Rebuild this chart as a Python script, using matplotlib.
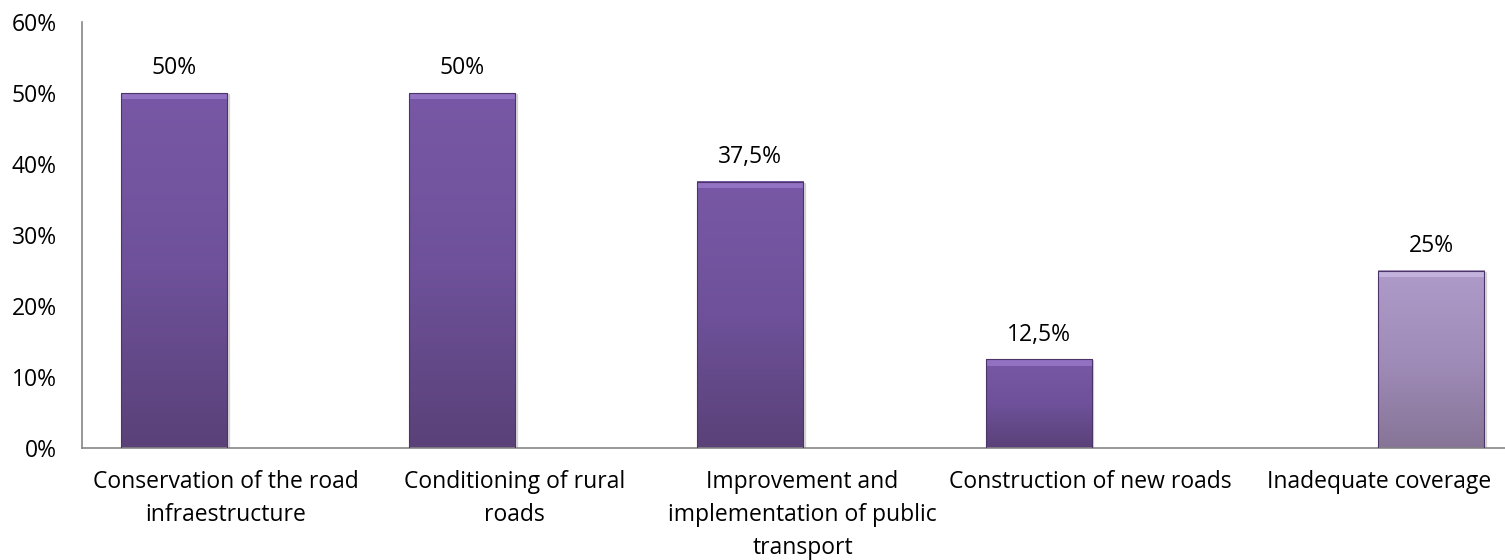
import numpy as np
import matplotlib.pyplot as plt
from matplotlib.colors import LinearSegmentedColormap

# Dados do gráfico
categorias = ['Conservation of the road\ninfraestructure',
              'Conditioning of rural\nroads',
              'Improvement and\nimplementation of public\ntransport',
              'Construction of new roads',
              'Inadequate coverage']
serie_1 = [50, 50, 37.5, 12.5, np.nan]
serie_2 = [np.nan, np.nan, np.nan, np.nan, 25]
rotulos_1 = ['50%', '50%', '37,5%', '12,5%', '']
rotulos_2 = ['', '', '', '', '25%']
yticks = [0, 10, 20, 30, 40, 50, 60]

plt.rcParams['font.family'] = ['Open Sans', 'DejaVu Sans']
fs = 16.5

fig = plt.figure(figsize=(15.05, 5.6), dpi=100)
ax = fig.add_axes([82 / 1505, 112 / 560, 1441 / 1505, 426 / 560])

x = np.arange(len(categorias))
largura = 0.368
desloc = 0.181

b1 = ax.bar(x - desloc, serie_1, largura, color='none')
b2 = ax.bar(x + desloc, serie_2, largura, color='none')

cmap1 = LinearSegmentedColormap.from_list('c1', ['#5a4178', '#6e519a', '#7858a6'])
cmap2 = LinearSegmentedColormap.from_list('c2', ['#877597', '#a08cb9', '#ae9bc9'])

# Gradiente vertical em cada barra
grad = np.linspace(0, 1, 256).reshape(-1, 1)
for barras, cmap, topo in [(b1, cmap1, '#a585d6'), (b2, cmap2, '#d2c4ea')]:
    for p in barras:
        h = p.get_height()
        if np.isnan(h):
            continue
        x0, w = p.get_x(), p.get_width()
        # sombra
        ax.add_patch(plt.Rectangle((x0 + 0.006, -0.35), w, h + 0.2,
                                   color='#000000', alpha=0.12, zorder=1))
        ax.imshow(grad, extent=(x0, x0 + w, 0, h), origin='lower', cmap=cmap,
                  aspect='auto', zorder=2)
        ax.add_patch(plt.Rectangle((x0, h - 0.9), w, 0.9, color=topo,
                                   alpha=0.6, zorder=3, lw=0))
        ax.add_patch(plt.Rectangle((x0, 0), w, h, fill=False,
                                   edgecolor='#4a3566', lw=0.8, zorder=3))

for barras, rot in [(b1, rotulos_1), (b2, rotulos_2)]:
    for p, r in zip(barras, rot):
        if r:
            ax.annotate(r, (p.get_x() + p.get_width() / 2, p.get_height()),
                        xytext=(0, 9), textcoords='offset points',
                        ha='center', va='bottom', fontsize=fs)

ax.set_xlim(-0.5, 4.5)
ax.set_ylim(0, 60)
ax.set_yticks(yticks)
ax.set_yticklabels([f'{v}%' for v in yticks], fontsize=fs)
ax.set_xticks(x)
ax.set_xticklabels(categorias, fontsize=fs, linespacing=1.5)
ax.tick_params(length=0)
ax.tick_params(axis='y', pad=18)
ax.tick_params(axis='x', pad=16)

for s in ['top', 'right']:
    ax.spines[s].set_visible(False)
for s in ['left', 'bottom']:
    ax.spines[s].set_color('#868686')
    ax.spines[s].set_linewidth(1.2)

fig.savefig('out.png', dpi=100)
